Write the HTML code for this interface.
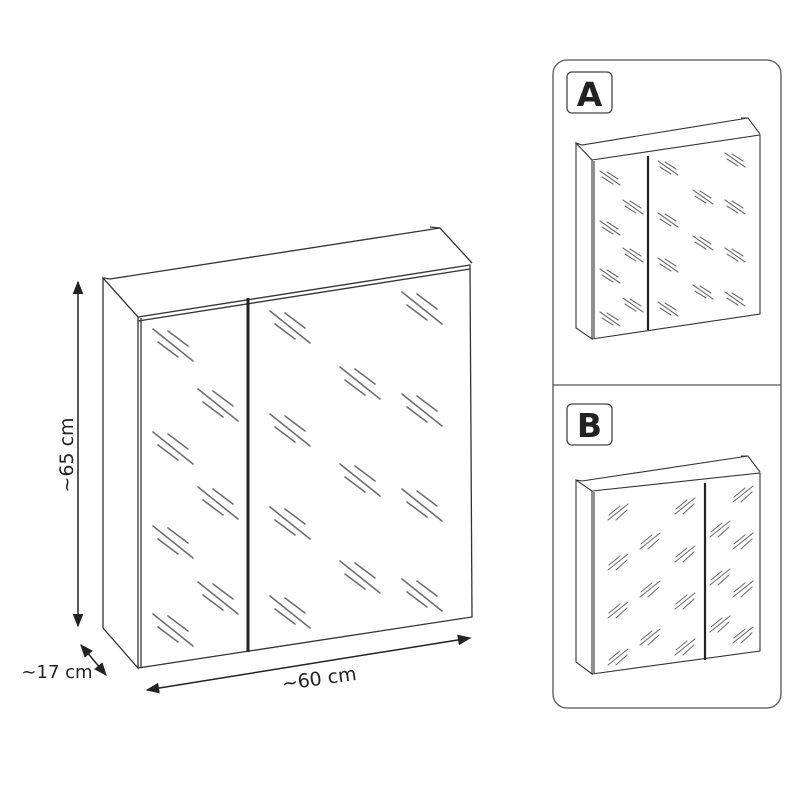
<!DOCTYPE html>
<html><head><meta charset="utf-8"><style>
body{margin:0;background:#fff;width:800px;height:800px;overflow:hidden}
svg{display:block}
text{font-family:"DejaVu Sans","Liberation Sans",sans-serif;fill:#222}
</style></head><body>
<svg width="800" height="800" viewBox="0 0 800 800" xmlns="http://www.w3.org/2000/svg">
<defs>
<g id="h" stroke="#6f6f6f" stroke-width="1.6" stroke-linecap="round">
<line x1="-20" y1="-16" x2="20" y2="16"/><line x1="-15" y1="-3" x2="5" y2="12"/><line x1="-5" y1="-14" x2="15" y2="1"/>
</g>
<g id="hs" stroke="#6f6f6f" stroke-width="1.1" stroke-linecap="round">
<line x1="-10" y1="-7" x2="10" y2="7"/><line x1="-8" y1="-1" x2="3" y2="6"/><line x1="-3" y1="-6" x2="8" y2="1"/>
</g>
<g id="hb" stroke="#6f6f6f" stroke-width="1.1" stroke-linecap="round">
<line x1="-10" y1="8" x2="10" y2="-8"/><line x1="-9" y1="3" x2="2" y2="-6"/><line x1="-2" y1="8" x2="9" y2="-2"/>
</g>
<marker id="ar" viewBox="0 0 10 10" refX="9" refY="5" markerWidth="9" markerHeight="9" orient="auto-start-reverse"><path d="M0,1 L10,5 L0,9 z" fill="#222"/></marker>
</defs>

<g fill="none" stroke="#333" stroke-width="1.3">
<path d="M103,278 L103,628 L138,668 L138,317 Z"/>
<path d="M103,278 L110,279 L440,228"/>
<path d="M430,227 L440,228 L472,263"/>
<path d="M138,317 L470,265 L472,617 L138,668"/>
<line x1="141" y1="318" x2="141" y2="667"/>
<line x1="138" y1="321" x2="470" y2="269"/>
</g>
<line x1="248" y1="298" x2="248" y2="652" stroke="#222" stroke-width="3"/>
<g>
<use href="#h" x="173" y="345"/><use href="#h" x="218" y="405"/><use href="#h" x="173" y="448"/><use href="#h" x="218" y="503"/><use href="#h" x="173" y="542"/><use href="#h" x="218" y="598"/><use href="#h" x="173" y="630"/>
<use href="#h" x="290" y="327"/><use href="#h" x="290" y="430"/><use href="#h" x="290" y="523"/><use href="#h" x="290" y="612"/>
<use href="#h" x="360" y="383"/><use href="#h" x="360" y="480"/><use href="#h" x="360" y="577"/>
<use href="#h" x="422" y="308"/><use href="#h" x="422" y="410"/><use href="#h" x="422" y="505"/><use href="#h" x="422" y="595"/>
</g>
<g stroke="#222" stroke-width="1.5">
<line x1="78" y1="282" x2="78" y2="626" marker-start="url(#ar)" marker-end="url(#ar)"/>
<line x1="81" y1="645" x2="106" y2="675" marker-start="url(#ar)" marker-end="url(#ar)"/>
<line x1="147" y1="690" x2="470" y2="638" marker-start="url(#ar)" marker-end="url(#ar)"/>
</g>
<text x="0" y="0" font-size="19" transform="translate(73,455) rotate(-90)" text-anchor="middle">~65 cm</text>
<text x="57" y="678" font-size="18" text-anchor="middle">~17 cm</text>
<text x="0" y="0" font-size="19" transform="translate(320,685) rotate(-8)" text-anchor="middle">~60 cm</text>

<rect x="553" y="60" width="228" height="648" rx="14" fill="none" stroke="#555" stroke-width="1.3"/>
<line x1="553" y1="385" x2="781" y2="385" stroke="#555" stroke-width="1.3"/>
<rect x="567" y="72" width="45" height="41" rx="5" fill="none" stroke="#444" stroke-width="1.3"/>
<text x="589.5" y="106" font-size="33" font-weight="bold" text-anchor="middle">A</text>
<rect x="567" y="404" width="45" height="41" rx="5" fill="none" stroke="#444" stroke-width="1.3"/>
<text x="589.5" y="437" font-size="33" font-weight="bold" text-anchor="middle">B</text>

<g fill="none" stroke="#333" stroke-width="1.1">
<path d="M576,143 L576,328 L592,339 L592,160 Z"/>
<path d="M576,143 L582,145 L748,118"/>
<path d="M741,118 L748,118 L760,134"/>
<path d="M592,160 L760,135 L760,314 L592,339"/>
<line x1="594" y1="161" x2="594" y2="338"/>
</g>
<line x1="648" y1="156" x2="648" y2="330" stroke="#222" stroke-width="2.2"/>
<g>
<use href="#hs" x="610" y="178"/><use href="#hs" x="633" y="207"/><use href="#hs" x="610" y="228"/><use href="#hs" x="633" y="255"/><use href="#hs" x="610" y="276"/><use href="#hs" x="633" y="305"/><use href="#hs" x="610" y="319"/>
<use href="#hs" x="668" y="168"/><use href="#hs" x="668" y="220"/><use href="#hs" x="668" y="265"/><use href="#hs" x="668" y="309"/>
<use href="#hs" x="703" y="197"/><use href="#hs" x="703" y="243"/><use href="#hs" x="703" y="292"/>
<use href="#hs" x="735" y="160"/><use href="#hs" x="735" y="207"/><use href="#hs" x="735" y="255"/><use href="#hs" x="735" y="299"/>
</g>

<g fill="none" stroke="#333" stroke-width="1.1">
<path d="M576,480 L576,662 L592,674 L592,491 Z"/>
<path d="M576,480 L582,481 L748,456"/>
<path d="M741,456 L748,456 L760,472"/>
<path d="M592,491 L760,473 L760,651 L592,674"/>
<line x1="594" y1="492" x2="594" y2="673"/>
</g>
<line x1="705" y1="483" x2="705" y2="660" stroke="#222" stroke-width="2.2"/>
<g>
<use href="#hb" x="618" y="512"/><use href="#hb" x="650" y="541"/><use href="#hb" x="685" y="506"/><use href="#hb" x="618" y="562"/><use href="#hb" x="650" y="589"/><use href="#hb" x="685" y="554"/><use href="#hb" x="618" y="610"/><use href="#hb" x="650" y="637"/><use href="#hb" x="685" y="601"/><use href="#hb" x="618" y="657"/><use href="#hb" x="685" y="647"/>
<use href="#hb" x="743" y="494"/><use href="#hb" x="720" y="529"/><use href="#hb" x="743" y="541"/><use href="#hb" x="720" y="577"/><use href="#hb" x="743" y="589"/><use href="#hb" x="720" y="624"/><use href="#hb" x="743" y="635"/>
</g>
</svg>
</body></html>
